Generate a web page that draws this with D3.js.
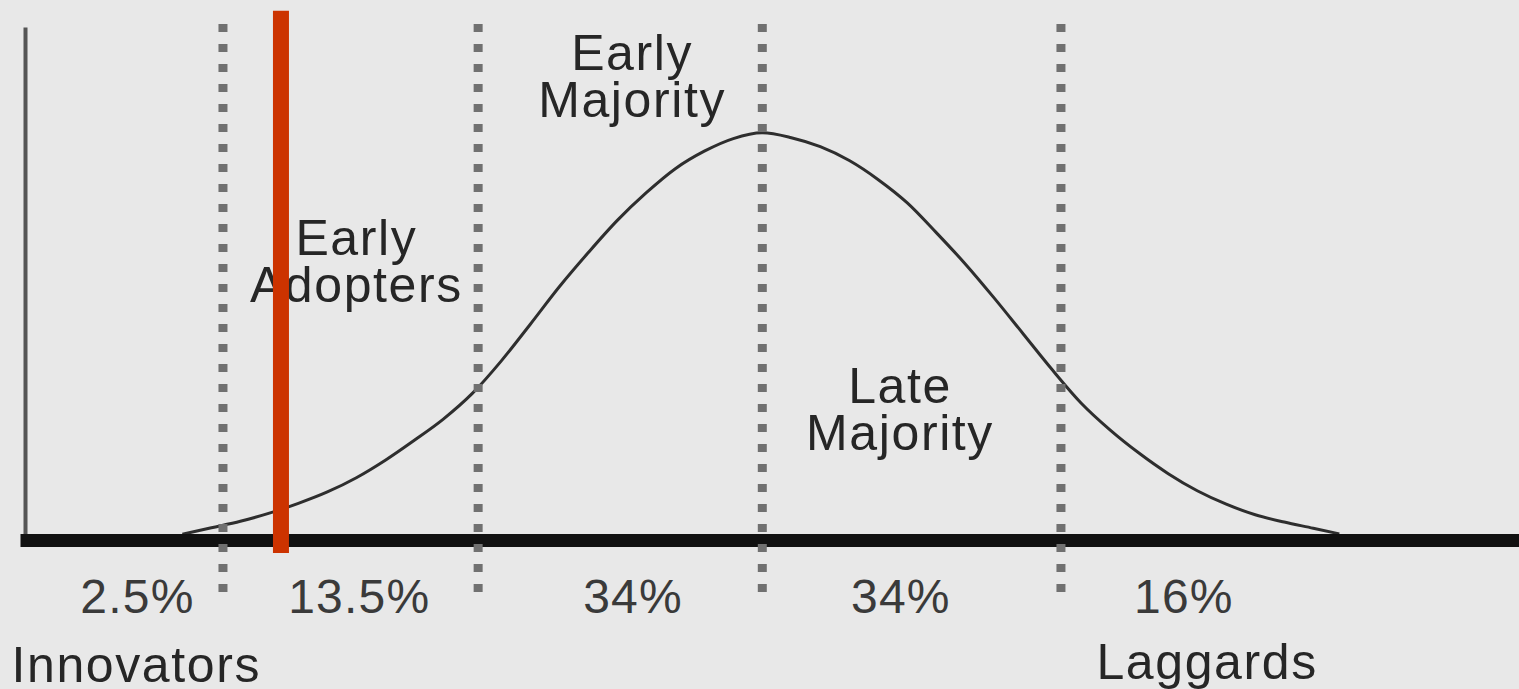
<!DOCTYPE html>
<html><head><meta charset="utf-8">
<script src="https://cdn.jsdelivr.net/npm/d3@7"></script>
<style>html,body{margin:0;padding:0;background:#e8e8e8;overflow:hidden}</style>
</head><body><svg id="chart" width="1519" height="689"></svg>
<script>
// ---- data (x in standard-deviation units from the mean, y = relative adoption density) ----
const curveX = [-2.0,-1.9,-1.8,-1.7,-1.6,-1.5,-1.4,-1.3,-1.2,-1.1,-1.0,-0.9,-0.8,-0.7,-0.6,-0.5,-0.4,-0.3,-0.2,-0.1,0,0.1,0.2,0.3,0.4,0.5,0.6,0.7,0.8,0.9,1.0,1.1,1.2,1.3,1.4,1.5,1.6,1.7,1.8,1.9,1.99];
const curveY = [0.014,0.030,0.046,0.066,0.090,0.118,0.153,0.196,0.245,0.297,0.360,0.440,0.530,0.622,0.706,0.785,0.853,0.912,0.955,0.986,1.0,0.988,0.966,0.932,0.885,0.828,0.755,0.678,0.594,0.506,0.418,0.336,0.270,0.213,0.163,0.121,0.088,0.062,0.044,0.029,0.015];
const boundaries = [-1.86, -0.98, 0, 1.03];
const shareLabels = ["2.5%", "13.5%", "34%", "34%", "16%"];
const categories = ["Innovators", "Early Adopters", "Early Majority", "Late Majority", "Laggards"];
const markerX = -1.66;

// ---- layout (label anchors in chart units) ----
const shareAnchorX = [-2.155, -1.39, -0.446, 0.478, 1.454];
const shareAnchorY = -0.179;
const categoryLayout = [
  {lines: ["Innovators"], x: -2.159, y: -0.349},
  {lines: ["Early", "Adopters"], x: -1.40, y: 0.700},
  {lines: ["Early", "Majority"], x: -0.449, y: 1.155},
  {lines: ["Late", "Majority"], x: 0.475, y: 0.337},
  {lines: ["Laggards"], x: 1.534, y: -0.342}
];

const svg = d3.select("#chart");
svg.append("rect").attr("width", 1519).attr("height", 689).attr("fill", "#e8e8e8");

const x = d3.scaleLinear().domain([-2.56, 2.62]).range([20, 1522]);
const y = d3.scaleLinear().domain([0, 1.26]).range([540, 27]);

// y axis (plain line)
const yAxis = svg.append("g").attr("transform", `translate(${x(-2.56) + 5},0)`)
  .call(d3.axisLeft(y).ticks(0).tickSize(0).tickSizeOuter(0));
yAxis.select(".domain").attr("stroke", "#555").attr("stroke-width", 4);

// bell curve (drawn under the baseline so its tails merge into it)
const pts = curveX.map((v, i) => [v, curveY[i]]);
svg.append("path").datum(pts)
  .attr("fill", "none").attr("stroke", "#2e2e2e").attr("stroke-width", 3)
  .attr("d", d3.line().x(d => x(d[0])).y(d => y(d[1])).curve(d3.curveMonotoneX));

// x axis (thick baseline)
const xAxis = svg.append("g").attr("transform", `translate(0,${y(0)})`)
  .call(d3.axisBottom(x).ticks(0).tickSize(0).tickSizeOuter(0));
xAxis.select(".domain").attr("stroke", "#111").attr("stroke-width", 13);

// dotted boundaries
svg.append("g").selectAll("line").data(boundaries).join("line")
  .attr("x1", d => x(d)).attr("x2", d => x(d))
  .attr("y1", y(1.26) - 3).attr("y2", y(-0.128))
  .attr("stroke", "#707070").attr("stroke-width", 9)
  .attr("stroke-dasharray", "8 12");

// share labels
svg.append("g").selectAll("text").data(shareLabels).join("text")
  .attr("x", (d, i) => x(shareAnchorX[i])).attr("y", y(shareAnchorY))
  .attr("text-anchor", "middle")
  .attr("font-family", "'Liberation Sans', Arial, sans-serif")
  .attr("font-size", 48).attr("letter-spacing", 1.2).attr("fill", "#3a3a3a")
  .text(d => d);

// category labels
const cat = svg.append("g").selectAll("text").data(categories).join("text")
  .attr("text-anchor", "middle")
  .attr("font-family", "'Liberation Sans', Arial, sans-serif")
  .attr("font-size", 50).attr("letter-spacing", 1.6).attr("fill", "#262626")
  .attr("x", (d, i) => x(categoryLayout[i].x))
  .attr("y", (d, i) => y(categoryLayout[i].y));
cat.each(function(d, i) {
  const t = d3.select(this);
  categoryLayout[i].lines.forEach((ln, j) => {
    t.append("tspan").attr("x", x(categoryLayout[i].x)).attr("dy", j === 0 ? 0 : 47).text(ln);
  });
});

// red marker
svg.append("line")
  .attr("x1", x(markerX)).attr("x2", x(markerX))
  .attr("y1", y(1.30)).attr("y2", y(-0.032))
  .attr("stroke", "#cc3300").attr("stroke-width", 16);
</script></body></html>
